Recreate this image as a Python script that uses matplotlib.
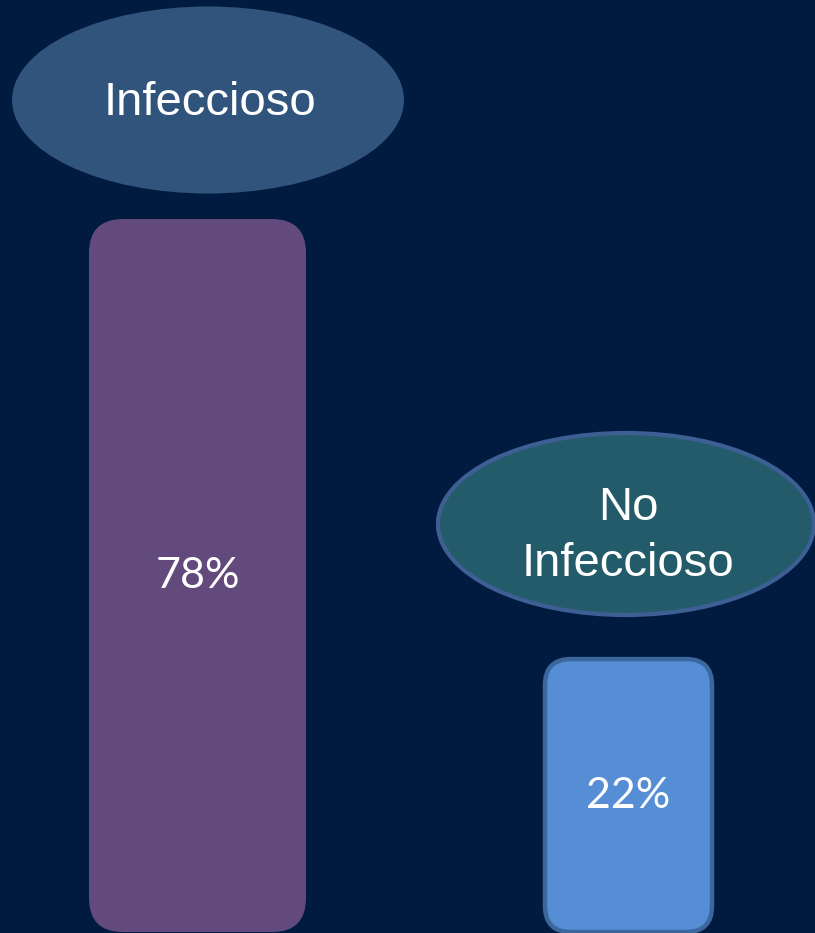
import matplotlib.pyplot as plt
from matplotlib.patches import FancyBboxPatch, Ellipse

# data
categories = ["Infeccioso", "No\nInfeccioso"]
values = [78, 22]
value_labels = ["78%", "22%"]

bg = "#001a40"
bar_colors = ["#624b7c", "#558ed5"]
bar_edges = ["none", "#3c679c"]
bubble_colors = ["#30547c", "#245b6a"]
bubble_edges = ["none", "#3d5f94"]

W, H = 815, 933
fig = plt.figure(figsize=(W / 100, H / 100), dpi=100)
fig.patch.set_facecolor(bg)

# bar axes: x in pixels, y in percent (infographic baseline below zero)
ax = fig.add_axes([0, 0, 1, 1])
ax.set_facecolor(bg)
base = -12.75
ax.set_xlim(0, W)
ax.set_ylim(-12.87, 105.88)
ax.axis("off")

px_per_unit = H / (105.88 + 12.87)
bar_x = [89, 545]
bar_w = [217, 167]
radius = [34, 26]
for i, v in enumerate(values):
    box = FancyBboxPatch((bar_x[i], base), bar_w[i], v - base,
                         boxstyle=f"round,pad=0,rounding_size={radius[i]}",
                         mutation_aspect=1 / px_per_unit,
                         facecolor=bar_colors[i], edgecolor=bar_edges[i],
                         linewidth=3.2)
    ax.add_patch(box)
    ax.text(bar_x[i] + bar_w[i] / 2, (base + v) / 2, value_labels[i],
            ha="center", va="center", color="white", fontsize=31,
            family=["Lato", "DejaVu Sans"])

# overlay in pixel coordinates for the label bubbles
ov = fig.add_axes([0, 0, 1, 1])
ov.set_xlim(0, W)
ov.set_ylim(H, 0)
ov.axis("off")
ov.patch.set_alpha(0)

bub_xy = [(208, 100), (626, 524)]
bub_wh = [(392, 187), (376, 182)]
for i, cat in enumerate(categories):
    e = Ellipse(bub_xy[i], bub_wh[i][0], bub_wh[i][1],
                facecolor=bubble_colors[i], edgecolor=bubble_edges[i],
                linewidth=3)
    ov.add_patch(e)
    ov.text(bub_xy[i][0] + 2, bub_xy[i][1] + (3 if i == 0 else 12), cat,
            ha="center", va="center", color="white", fontsize=34,
            family="Liberation Sans", linespacing=1.38)

fig.savefig("out.png", dpi=100, facecolor=bg)
